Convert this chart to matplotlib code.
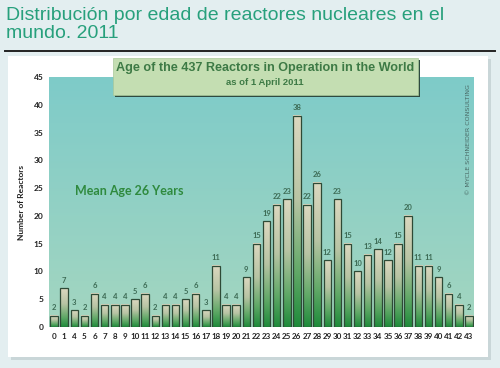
import numpy as np
import matplotlib.pyplot as plt
from matplotlib.colors import LinearSegmentedColormap
from matplotlib.patches import Rectangle

# ---- DATA ----
ages = [0, 1, 4, 5, 6, 7, 8, 9, 10, 11, 12, 13, 14, 15, 16, 17, 18, 19, 20, 21,
        22, 23, 24, 25, 26, 27, 28, 29, 30, 31, 32, 33, 34, 35, 36, 37, 38, 39,
        40, 41, 42, 43]
reactors = [2, 7, 3, 2, 6, 4, 4, 4, 5, 6, 2, 4, 4, 5, 6, 3, 11, 4, 4, 9,
            15, 19, 22, 23, 38, 22, 26, 12, 23, 15, 10, 13, 14, 12, 15, 20, 11, 11,
            9, 6, 4, 2]
y_ticks = [0, 5, 10, 15, 20, 25, 30, 35, 40, 45]

title_lines = ["Distribución por edad de reactores nucleares en el", "mundo. 2011"]
chart_title = "Age of the 437 Reactors in Operation in the World"
chart_sub = "as of 1 April 2011"
mean_text = "Mean Age 26 Years"
credit = "© MYCLE SCHNEIDER CONSULTING"

# ---- FIGURE ----
W, H = 500, 368
fig = plt.figure(figsize=(W / 100, H / 100), dpi=100)
fig.patch.set_facecolor("#e3eef0")

def fx(px):
    return px / W

def fy(py):
    return 1 - py / H

# page title (two lines, baselines placed separately)
for line, base in zip(title_lines, [20, 38]):
    fig.text(fx(6), fy(base), line, color="#27a07c", fontsize=14,
             family="Liberation Sans", va="baseline", ha="left")
fig.add_artist(plt.Line2D([fx(5), fx(495)], [fy(51), fy(51)],
                          color="#222222", lw=1.4, transform=fig.transFigure))

# white panel with soft shadow
fig.add_artist(Rectangle((fx(11), fy(360)), fx(480), fy(59) - fy(360),
                         transform=fig.transFigure, facecolor="#c9d6d8",
                         edgecolor="none", zorder=0))
fig.add_artist(Rectangle((fx(8), fy(357)), fx(480), fy(56) - fy(357),
                         transform=fig.transFigure, facecolor="white",
                         edgecolor="none", zorder=0))

# ---- PLOT AREA ----
ax = fig.add_axes([fx(49), fy(327), fx(474 - 49), fy(77) - fy(327)])
x = np.arange(len(ages))
ax.set_xlim(-0.5, len(ages) - 0.5)
ax.set_ylim(0, 45)

bg = LinearSegmentedColormap.from_list("bg", ["#a4d6c0", "#7ecbc9"])
grad = np.linspace(0, 1, 256).reshape(-1, 1)
ax.imshow(grad, cmap=bg, origin="lower", aspect="auto",
          extent=(-0.5, len(ages) - 0.5, 0, 45), zorder=0)

barmap = LinearSegmentedColormap.from_list(
    "bar", [(0, "#1e8a3a"), (0.25, "#5fa866"), (0.6, "#b8c4a4"), (1, "#dcd8c0")])
w = 0.74
for xi, v in zip(x, reactors):
    ax.imshow(grad, cmap=barmap, origin="lower", aspect="auto",
              extent=(xi - w / 2, xi + w / 2, 0, v), zorder=2)
    ax.add_patch(Rectangle((xi - w / 2, 0), w, v, facecolor="none",
                           edgecolor="#2e4a36", lw=0.9, zorder=3))
    ax.text(xi, v + 0.8, str(v), ha="center", va="bottom", fontsize=5.5,
            family="Lato", color="#3d6b55", fontweight="bold", zorder=4)

ax.set_xticks(x)
ax.set_xticklabels([str(a) for a in ages], fontsize=5.8, fontweight="bold",
                   family="Lato", color="#222222")
ax.set_yticks(y_ticks)
ax.set_yticklabels([str(t) for t in y_ticks], fontsize=6, fontweight="bold",
                   family="Lato", color="#222222")
ax.tick_params(axis="both", length=0, pad=4)
for s in ax.spines.values():
    s.set_visible(False)
ax.set_ylabel("Number of Reactors", fontsize=6, fontweight="bold",
              family="Lato", color="#222222", labelpad=6)

ax.text(2.1, 24.5, mean_text, fontsize=9, fontweight="bold", color="#2f8a3e",
        family="Lato", va="center", ha="left", zorder=4)

# title box
fig.add_artist(Rectangle((fx(115), fy(97)), fx(305), fy(60) - fy(97),
                         transform=fig.transFigure, facecolor="#2e4a40",
                         edgecolor="none", zorder=5))
fig.add_artist(Rectangle((fx(113), fy(95)), fx(305), fy(58) - fy(95),
                         transform=fig.transFigure, facecolor="#c4deb2",
                         edgecolor="#a8c89a", lw=0.5, zorder=6))
fig.text(fx(265), fy(68), chart_title, ha="center", va="center", fontsize=9.1,
         family="Liberation Sans", fontweight="bold", color="#3d7a45", zorder=7)
fig.text(fx(265), fy(82.5), chart_sub, ha="center", va="center", fontsize=6.8,
         family="Liberation Sans", fontweight="bold", color="#3d7a45", zorder=7)

# credit
fig.text(fx(469), fy(140), credit, rotation=90,
         ha="center", va="center", fontsize=4.6, color="#4a6a66", zorder=7)

fig.savefig("out.png", dpi=100, facecolor=fig.get_facecolor())
